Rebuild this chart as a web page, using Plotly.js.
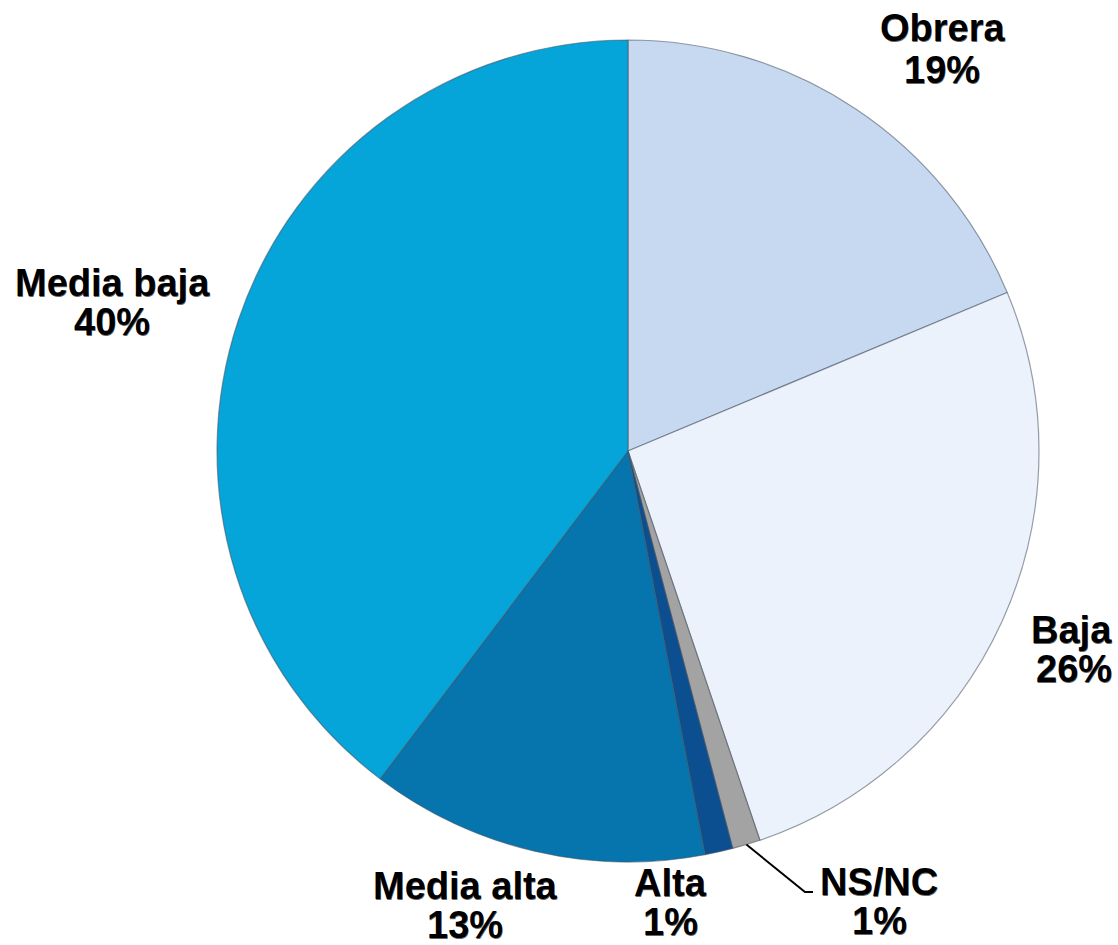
<!DOCTYPE html>
<html>
<head>
<meta charset="utf-8">
<script src="https://cdn.plot.ly/plotly-3.0.1.min.js"></script>
<style>
html,body{margin:0;padding:0;background:#fff;}
#chart{width:1118px;height:945px;}
</style>
</head>
<body>
<div id="chart"></div>
<script>
// Data (clockwise from 12 o'clock)
const categories = ["Obrera", "Baja", "NS/NC", "Alta", "Media alta", "Media baja"];
const values = [18.7, 26.1, 1.1, 1.1, 13.3, 39.7];
const percentLabels = ["19%", "26%", "1%", "1%", "13%", "40%"];
const sliceColors = ["#C6D9F1", "#EBF2FC", "#A3A3A3", "#0C4F90", "#0674AD", "#05A4D9"];

// Label placements in pixels: [x, y of name line, y of percent line, anchor]
const labelPos = [
  [942, 28, 70, 'center'],
  [1114, 630, 669, 'right'],
  [879, 882, 921, 'center'],
  [670, 883, 922, 'center'],
  [465, 886, 925, 'center'],
  [112, 283, 322, 'center']
];

const W = 1118, H = 945;
const cx = 628, cy = 451, R = 411;
const dom = {x: [(cx - R) / W, (cx + R) / W], y: [1 - (cy + R) / H, 1 - (cy - R) / H]};

const px = x => x / W;
const py = y => 1 - y / H;

const labelFont = {family: 'Liberation Sans, Arial, sans-serif', size: 38, color: '#000', weight: 'bold',
  shadow: '0.5px 0.5px 0.5px rgba(0,0,0,0.6)'};
const annotations = [];
categories.forEach((c, i) => {
  const p = labelPos[i];
  [[c, p[1]], [percentLabels[i], p[2]]].forEach(([t, yy]) => {
    annotations.push({
      x: px(p[0]), y: py(yy), xref: 'paper', yref: 'paper',
      text: t, showarrow: false, xanchor: p[3], yanchor: 'middle', align: 'center',
      font: labelFont
    });
  });
});

// leader line for NS/NC from slice mid-angle
const total = values.reduce((a, b) => a + b, 0);
let cum = 0;
for (let i = 0; i < 2; i++) cum += values[i];
const mid = (cum + values[2] / 2) / total * 2 * Math.PI;
const sx = cx + R * Math.sin(mid), sy = cy - R * Math.cos(mid);
const shapes = [{
  type: 'path', xref: 'paper', yref: 'paper',
  path: `M ${px(sx)} ${py(sy)} L ${px(805)} ${py(892)} L ${px(813)} ${py(892)}`,
  line: {color: '#000', width: 2}
}];

const trace = {
  type: 'pie', labels: categories, values: values, sort: false,
  direction: 'clockwise', rotation: 0, domain: dom,
  marker: {colors: sliceColors, line: {color: 'rgba(70,80,95,0.55)', width: 1.2}},
  textinfo: 'none', hoverinfo: 'label+percent', showlegend: false
};

Plotly.newPlot('chart', [trace], {
  width: W, height: H, margin: {l: 0, r: 0, t: 0, b: 0},
  paper_bgcolor: '#fff', showlegend: false,
  annotations: annotations, shapes: shapes
}, {displayModeBar: false, staticPlot: true});
</script>
</body>
</html>
